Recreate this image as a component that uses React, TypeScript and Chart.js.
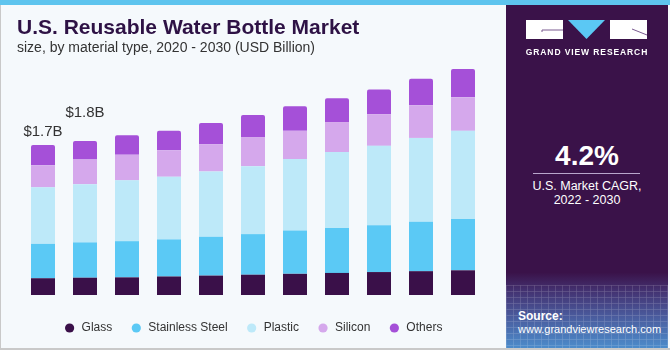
import React, { useEffect, useRef } from "react";
import { Chart, registerables } from "chart.js";

Chart.register(...registerables);

const years = ["2020", "2021", "2022", "2023", "2024", "2025", "2026", "2027", "2028", "2029", "2030"];
const glass = [0.19, 0.196, 0.2, 0.21, 0.22, 0.23, 0.24, 0.25, 0.26, 0.27, 0.28];
const stainless = [0.39, 0.4, 0.41, 0.42, 0.44, 0.46, 0.49, 0.51, 0.53, 0.56, 0.58];
const plastic = [0.64, 0.66, 0.69, 0.71, 0.74, 0.77, 0.81, 0.86, 0.9, 0.95, 1.0];
const silicon = [0.25, 0.28, 0.29, 0.3, 0.31, 0.33, 0.32, 0.34, 0.36, 0.37, 0.38];
const others = [0.23, 0.21, 0.22, 0.22, 0.24, 0.25, 0.28, 0.27, 0.28, 0.3, 0.32];
const totalLabels = ["$1.7B", "$1.8B"];
const yMax = 2.663;

const totalLabelLift = [9, 24];

const totalsPlugin = {
  id: "totals",
  afterDatasetsDraw(chart: any) {
    const ctx = chart.ctx;
    const meta = chart.getDatasetMeta(chart.data.datasets.length - 1);
    ctx.save();
    ctx.font = "15px 'Liberation Sans', Arial, sans-serif";
    ctx.fillStyle = "#333333";
    ctx.textAlign = "center";
    ctx.textBaseline = "alphabetic";
    totalLabels.forEach((t, i) => {
      const el = meta.data[i];
      if (!el) return;
      ctx.fillText(t, el.x, el.y - totalLabelLift[i]);
    });
    ctx.restore();
  },
};

function BarChart() {
  const ref = useRef<HTMLCanvasElement | null>(null);
  useEffect(() => {
    if (!ref.current) return;
    const mk = (label: string, data: number[], color: string, top = false) => ({
      label,
      data,
      backgroundColor: color,
      borderWidth: 0,
      borderSkipped: false,
      borderRadius: top ? { topLeft: 2, topRight: 2, bottomLeft: 0, bottomRight: 0 } : 0,
      barPercentage: 24 / 42,
      categoryPercentage: 1,
    });
    const chart = new Chart(ref.current, {
      type: "bar",
      data: {
        labels: years,
        datasets: [
          mk("Glass", glass, "#3a1049"),
          mk("Stainless Steel", stainless, "#5bc9f5"),
          mk("Plastic", plastic, "#bde9f9"),
          mk("Silicon", silicon, "#d5a8ec"),
          mk("Others", others, "#a550d8", true),
        ],
      },
      options: {
        animation: false,
        responsive: false,
        layout: { padding: { top: 60, left: 22, right: 22, bottom: 6 } },
        plugins: {
          legend: {
            position: "bottom",
            labels: {
              usePointStyle: true,
              pointStyle: "circle",
              boxWidth: 12,
              boxHeight: 6.5,
              padding: 18,
              color: "#333333",
              font: { size: 12, family: "'Liberation Sans', Arial, sans-serif" },
            },
          },
          tooltip: { enabled: false },
        },
        scales: {
          x: {
            stacked: true,
            grid: { display: false },
            border: { display: false },
            ticks: {
              color: "#333333",
              padding: 1,
              font: { size: 12.5, family: "'Liberation Sans', Arial, sans-serif" },
            },
            afterFit: (s: any) => {
              s.height = 9;
            },
          },
          y: {
            stacked: true,
            display: false,
            min: 0,
            max: yMax,
          },
        },
      },
      plugins: [totalsPlugin],
    } as any);
    return () => chart.destroy();
  }, []);
  return (
    <canvas
      ref={ref}
      width={506}
      height={350}
      style={{ position: "absolute", left: 0, top: 0, width: 506, height: 350 }}
    />
  );
}

function Logo() {
  return (
    <svg width={122} height={20} style={{ position: "absolute", left: 20, top: 15 }}>
      <rect x={0} y={0} width={37} height={19} fill="#ffffff" />
      <polyline points="16,12 16,10 37,10" fill="none" stroke="#7a5a90" strokeWidth={1} />
      <polygon points="42,0 79,0 60.5,19" fill="#5bc8f4" />
      <rect x={84} y={0} width={37} height={19} fill="#ffffff" />
      <line x1={106} y1={9} x2={121} y2={15} stroke="#7a5a90" strokeWidth={1} />
    </svg>
  );
}

export default function App() {
  const font = "'Liberation Sans', Arial, sans-serif";
  return (
    <div
      style={{
        position: "fixed",
        left: 0,
        top: 0,
        width: 670,
        height: 350,
        background: "#f5f9fc",
        overflow: "hidden",
        fontFamily: font,
      }}
    >
      <div style={{ position: "absolute", left: 0, top: 0, width: 670, height: 5, background: "#5ec4ee" }} />
      <div style={{ position: "absolute", left: 0, top: 5, width: 1, height: 345, background: "#c9c9c9" }} />
      <div style={{ position: "absolute", left: 0, top: 348, width: 670, height: 2, background: "#c9c9c9" }} />
      <BarChart />
      <div
        style={{
          position: "absolute",
          left: 17,
          top: 15,
          fontSize: 21,
          fontWeight: 900,
          color: "#2e1245",
          whiteSpace: "nowrap",
          lineHeight: "24px",
        }}
      >
        U.S. Reusable Water Bottle Market
      </div>
      <div
        style={{
          position: "absolute",
          left: 17,
          top: 39,
          fontSize: 14,
          color: "#333333",
          whiteSpace: "nowrap",
          lineHeight: "17px",
        }}
      >
        size, by material type, 2020 - 2030 (USD Billion)
      </div>
      <div
        style={{
          position: "absolute",
          left: 506,
          top: 5,
          width: 162,
          height: 343,
          background:
            "linear-gradient(to bottom, #3a1249 0%, #3a1249 78%, #43306f 83%, #4a5c9e 91%, #4c8ccb 100%)",
          overflow: "hidden",
        }}
      >
        <div
          style={{
            position: "absolute",
            left: 0,
            top: 280,
            width: 162,
            height: 63,
            opacity: 0.22,
            backgroundImage:
              "repeating-linear-gradient(to right, rgba(255,255,255,0.6) 0 1px, transparent 1px 7px), repeating-linear-gradient(to bottom, rgba(255,255,255,0.6) 0 1px, transparent 1px 6px)",
          }}
        />
        <Logo />
        <div
          style={{
            position: "absolute",
            left: 0,
            width: 162,
            top: 42,
            textAlign: "center",
            color: "#ffffff",
            fontSize: 8.5,
            fontWeight: 700,
            letterSpacing: 0.9,
            whiteSpace: "nowrap",
          }}
        >
          GRAND VIEW RESEARCH
        </div>
        <div
          style={{
            position: "absolute",
            left: 0,
            width: 162,
            top: 135,
            textAlign: "center",
            color: "#ffffff",
            fontSize: 28,
            fontWeight: 700,
            lineHeight: "32px",
          }}
        >
          4.2%
        </div>
        <div style={{ position: "absolute", left: 27, top: 168, width: 107, height: 1, background: "#b9a6cc" }} />
        <div
          style={{
            position: "absolute",
            left: 0,
            width: 162,
            top: 174,
            textAlign: "center",
            color: "#ffffff",
            fontSize: 12.5,
            lineHeight: "14px",
          }}
        >
          U.S. Market CAGR,
          <br />
          2022 - 2030
        </div>
        <div
          style={{
            position: "absolute",
            left: 12,
            top: 305,
            color: "#ffffff",
            fontSize: 11,
            lineHeight: "13px",
            whiteSpace: "nowrap",
          }}
        >
          <span style={{ fontWeight: 700, fontSize: 12 }}>Source:</span>
          <br />
          www.grandviewresearch.com
        </div>
      </div>
    </div>
  );
}
